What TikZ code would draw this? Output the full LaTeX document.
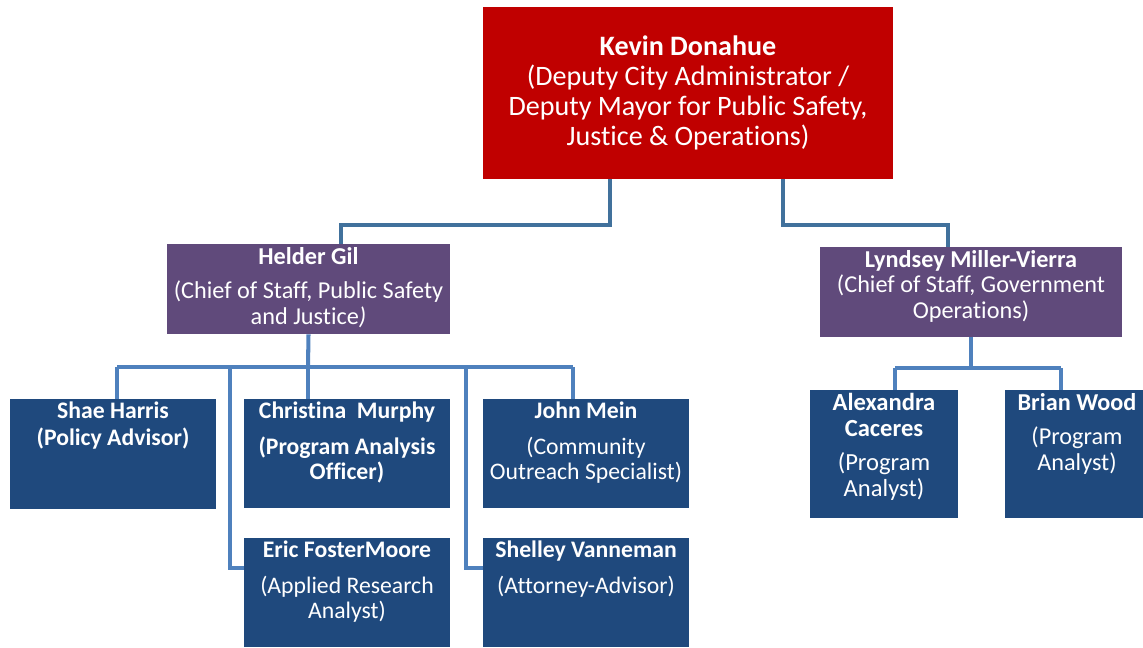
\documentclass[tikz,border=0pt]{standalone}
\usepackage{fontspec}
\setmainfont{Carlito}[Ligatures={NoCommon,NoContextual},Contextuals=NoAlternate]
\usepackage{tikz}
\definecolor{headred}{HTML}{C00000}
\definecolor{chiefpurple}{HTML}{604A7B}
\definecolor{staffblue}{HTML}{1F497D}
\definecolor{linkblue}{HTML}{4F81BD}
\definecolor{toplinkblue}{HTML}{41719C}
\begin{document}
\begin{tikzpicture}[x=0.02cm,y=-0.02cm,
	box/.style args={#1/#2}{rectangle,minimum width=#1*0.02cm,minimum height=#2*0.02cm,inner sep=0pt},
	txt/.style={text=white,align=center,anchor=north,inner sep=0pt},
	link/.style={line width=2.3pt,draw=linkblue},
	toplink/.style={line width=2.3pt,draw=toplinkblue}]
\useasboundingbox (0,0) rectangle (1143,647);
\node [box=410/172,fill=headred,text=white,align=center,font=\fontsize{16}{17}\selectfont] (kevin) at (688,93)
	{\textbf{Kevin Donahue}\\(Deputy City Administrator /\\Deputy Mayor for Public Safety,\\Justice \& Operations)};
\node [box=283/90,fill=chiefpurple] (helder) at (308.5,289) {};
\node [txt,font=\fontsize{13.8}{14.7}\selectfont] (heldert) at ([yshift=-0.06cm]helder.north)
	{\textbf{Helder Gil}\\[5pt](Chief of Staff, Public Safety\\and Justice\textit{)}};
\node [box=302/90,fill=chiefpurple] (lyndsey) at (971,292) {};
\node [txt,font=\fontsize{13.8}{14.7}\selectfont] (lyndseyt) at ([yshift=-0.06cm]lyndsey.north)
	{\textbf{Lyndsey Miller-Vierra}\\(Chief of Staff, Government\\Operations)};
\node [box=206/110,fill=staffblue] (shae) at (113,454) {};
\node [txt,font=\fontsize{13.5}{15}\selectfont\bfseries] (shaet) at ([yshift=-0.06cm]shae.north)
	{Shae Harris\\(Policy Advisor)};
\node [box=206/109,fill=staffblue] (christina) at (347,453.5) {};
\node [txt,font=\fontsize{13.5}{14.2}\selectfont\bfseries] (christinat) at ([yshift=-0.06cm]christina.north)
	{Christina\ \ Murphy\\[6pt](Program Analysis\\Officer)};
\node [box=206/109,fill=staffblue] (john) at (586,453.5) {};
\node [txt,font=\fontsize{13.5}{14.2}\selectfont] (johnt) at ([yshift=-0.06cm]john.north)
	{\textbf{John Mein}\\[6pt](Community\\Outreach Specialist)};
\node [box=206/109,fill=staffblue] (eric) at (347,592.5) {};
\node [txt,font=\fontsize{13.5}{14.2}\selectfont] (erict) at ([yshift=-0.06cm]eric.north)
	{\textbf{Eric FosterMoore}\\[6pt](Applied Research\\Analyst)};
\node [box=206/109,fill=staffblue] (shelley) at (586,592.5) {};
\node [txt,font=\fontsize{13.5}{14.2}\selectfont] (shelleyt) at ([yshift=-0.06cm]shelley.north)
	{\textbf{Shelley Vanneman}\\[6pt](Attorney-Advisor)};
\node [box=148/128,fill=staffblue] (alexandra) at (884,454) {};
\node [txt,font=\fontsize{14}{14.7}\selectfont] (alexandrat) at ([yshift=-0.06cm]alexandra.north)
	{\textbf{Alexandra}\\\textbf{Caceres}\\[5pt](Program\\Analyst)};
\node [box=138/128,fill=staffblue] (brian) at (1074,454) {};
\node [txt,font=\fontsize{13.8}{14.7}\selectfont] (briant) at ([xshift=0.06cm,yshift=-0.06cm]brian.north)
	{\textbf{Brian Wood}\\[5pt](Program\\Analyst)};
\coordinate (k1) at (610,225);
\coordinate (k2) at (783,225);
\coordinate (b1) at (117,367);
\coordinate (b2) at (230,367);
\coordinate (b3) at (308,367);
\coordinate (b4) at (466,367);
\coordinate (b5) at (573,367);
\coordinate (c1) at (895,368);
\coordinate (c2) at (1061,368);
\draw [toplink] (k1 |- kevin.south) -- (k1) -| ([xshift=0.65cm]helder.north);
\draw [toplink] (k2 |- kevin.south) -- (k2) -| ([xshift=-0.46cm]lyndsey.north);
\draw [link] (helder.south) -- (b3);
\draw [link] (b1) -- (b5);
\draw [link] (b1) -- (b1 |- shae.north);
\draw [link] (b3) -- (b3 |- christina.north);
\draw [link] (b5) -- (b5 |- john.north);
\draw [link] (b2) |- ([yshift=0.49cm]eric.west);
\draw [link] (b4) |- ([yshift=0.49cm]shelley.west);
\draw [link] (lyndsey.south) -- (lyndsey.south |- c1);
\draw [link] (c1) -- (c2);
\draw [link] (c1) -- (c1 |- alexandra.north);
\draw [link] (c2) -- (c2 |- brian.north);
\end{tikzpicture}
\end{document}
